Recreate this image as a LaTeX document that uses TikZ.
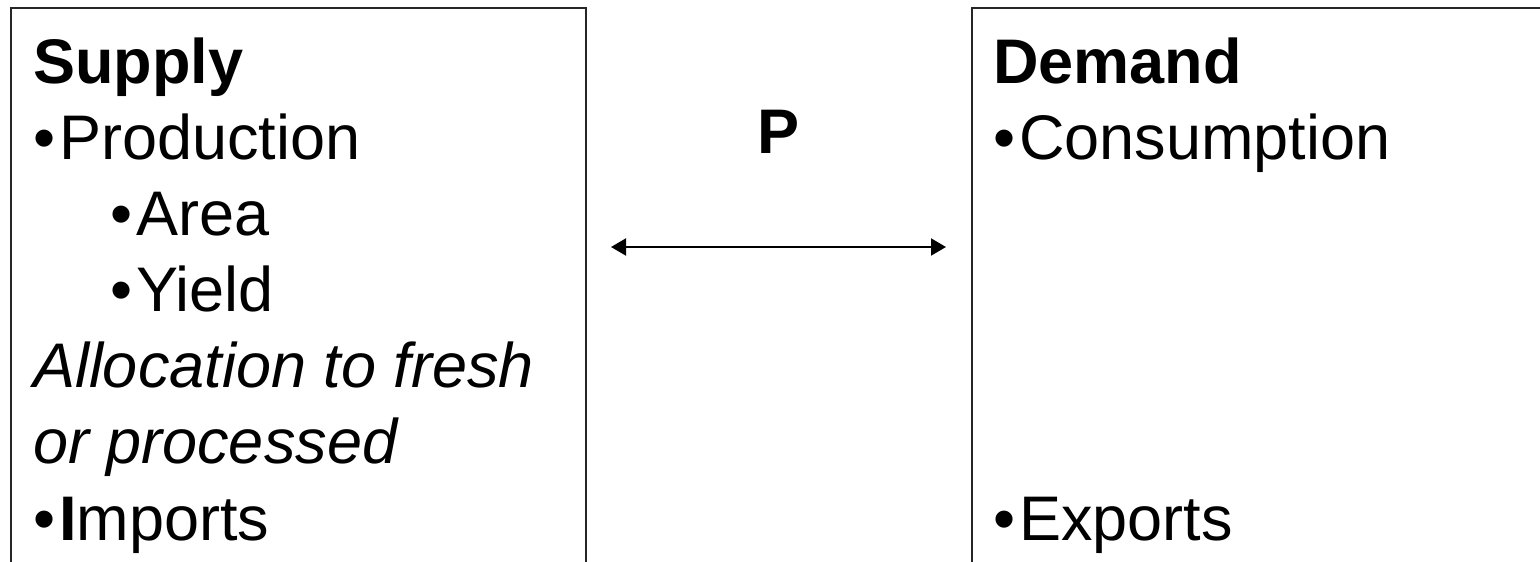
\documentclass[tikz,border=0pt]{standalone}
\usepackage{fontspec}
\setmainfont{Liberation Sans}
\usetikzlibrary{arrows.meta}
\newcommand{\bul}{•\kern4pt}
\begin{document}
\begin{tikzpicture}[x=1pt,y=-1pt,
  panel/.style={draw=black!85, line width=2pt, rectangle, inner sep=0pt, outer sep=0pt, anchor=north west},
  txt/.style={anchor=base west, inner sep=0pt, outer sep=0pt, font=\fontsize{63}{76}\selectfont},
  link/.style={line width=2pt, {Triangle[length=15pt,width=17pt]}-{Triangle[length=15pt,width=17pt]}}]
\useasboundingbox (0,0) rectangle (1540,562);
\clip (0,0) rectangle (1540,562);
% boxes
\node[panel, minimum width=575pt, minimum height=620pt] (supplybox) at (11,8) {};
\node[panel, minimum width=620pt, minimum height=620pt] (demandbox) at (972,8) {};
% supply text
\node[txt] (supply) at (33,83) {\bfseries Supply};
\node[txt] (production) at (33,159) {\bul Production};
\node[txt] (area) at (110,235) {\bul Area};
\node[txt] (yield) at (110,311) {\bul Yield};
\node[txt] (alloc) at (33,387) {\itshape Allocation to fresh};
\node[txt] (proc) at (33,463) {\itshape or processed};
\node[txt] (imports) at (33,540) {\bul\textbf{I}mports};
% demand text
\node[txt] (demand) at (993,83) {\bfseries Demand};
\node[txt] (consumption) at (993,159) {\bul Consumption};
\node[txt] (exports) at (993,540) {\bul Exports};
% price
\node[txt, anchor=base] (price) at (779,153) {\bfseries P};
\coordinate (pl) at (611,247);
\coordinate (pr) at (946,247);
\draw[link] (pl) -- (pr);
\end{tikzpicture}
\end{document}
